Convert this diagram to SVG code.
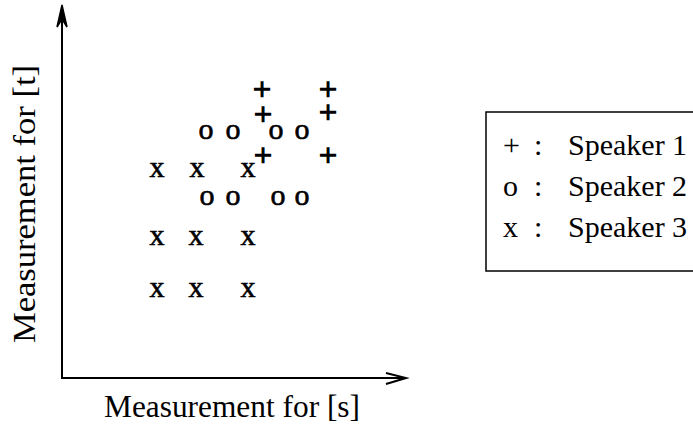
<svg xmlns="http://www.w3.org/2000/svg" width="693" height="428" viewBox="0 0 693 428">
<style>
.ax{stroke:#000;stroke-width:2;fill:none}
.ah{fill:#000;stroke:#000;stroke-width:1.5;stroke-linejoin:miter}
.lbl{font-family:"Liberation Serif","Times New Roman",serif;font-size:32px;fill:#000}
.mk{font-family:"Liberation Serif","Times New Roman",serif;font-size:30px;fill:#000;text-anchor:middle;stroke:#000;stroke-width:0.6}
.pl{font-size:32px;stroke-width:1.3}
.lg{font-family:"Liberation Serif","Times New Roman",serif;font-size:30px;fill:#000}
</style>
<rect width="693" height="428" fill="#fff"/>
<g id="connectors">
<path class="ax" d="M62,9 L62,378 L404,378"/>
<path class="ah" d="M62,5 L57,27 L62,19 L67,27 Z"/>
<path class="ax" d="M386,373 L406,378 L386,384"/>
</g>
<g id="axis-labels">
<text class="lbl" x="104" y="417" textLength="256" lengthAdjust="spacingAndGlyphs">Measurement for [s]</text>
<text class="lbl" transform="translate(35,343) rotate(-90)" textLength="278" lengthAdjust="spacingAndGlyphs">Measurement for [t]</text>
</g>
<g id="speaker1-points">
<text class="mk pl" x="262" y="100">+</text>
<text class="mk pl" x="328" y="100">+</text>
<text class="mk pl" x="263" y="125">+</text>
<text class="mk pl" x="328" y="123">+</text>
<text class="mk pl" x="263" y="166">+</text>
<text class="mk pl" x="328" y="166">+</text>
</g>
<g id="speaker2-points">
<text class="mk" x="206" y="139">o</text>
<text class="mk" x="233" y="139">o</text>
<text class="mk" x="276" y="139">o</text>
<text class="mk" x="302" y="139">o</text>
<text class="mk" x="207" y="205">o</text>
<text class="mk" x="233" y="205">o</text>
<text class="mk" x="278" y="205">o</text>
<text class="mk" x="302" y="205">o</text>
</g>
<g id="speaker3-points">
<text class="mk" x="157" y="177">x</text>
<text class="mk" x="197" y="177">x</text>
<text class="mk" x="248" y="177">x</text>
<text class="mk" x="157" y="245">x</text>
<text class="mk" x="196" y="245">x</text>
<text class="mk" x="248" y="245">x</text>
<text class="mk" x="157" y="297">x</text>
<text class="mk" x="196" y="297">x</text>
<text class="mk" x="248" y="297">x</text>
</g>
<g id="legend">
<rect x="486" y="112" width="240" height="159" fill="none" stroke="#000" stroke-width="1.5"/>
<text class="lg" x="503" y="155">+</text>
<text class="lg" x="534" y="155">:</text>
<text class="lg" x="568" y="155">Speaker 1</text>
<text class="lg" x="503" y="196">o</text>
<text class="lg" x="534" y="196">:</text>
<text class="lg" x="568" y="196">Speaker 2</text>
<text class="lg" x="503" y="237">x</text>
<text class="lg" x="534" y="237">:</text>
<text class="lg" x="568" y="237">Speaker 3</text>
</g>
</svg>
